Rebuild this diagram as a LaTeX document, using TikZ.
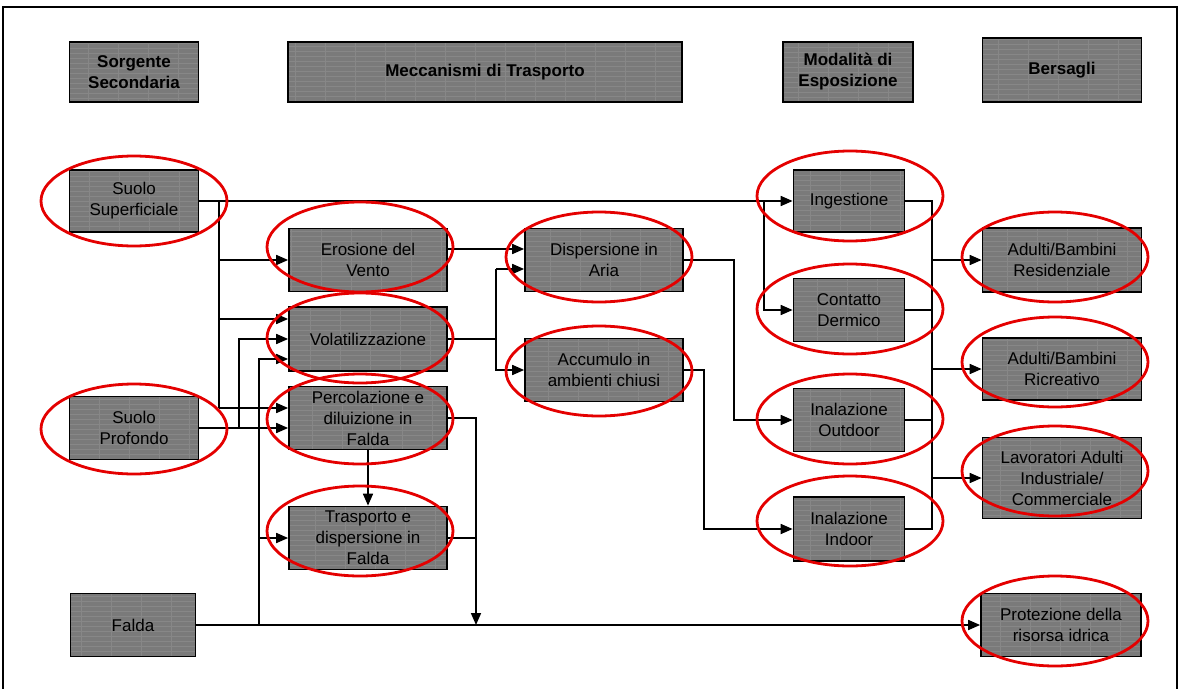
\documentclass[tikz,border=0pt]{standalone}
\usepackage{fontspec}
\setmainfont{Liberation Sans}
\usetikzlibrary{arrows.meta,positioning}
\tikzstyle{every link} = []
\tikzstyle{link} = [-{Triangle[length=12pt,width=10pt]}, draw, line width=1.7pt, every link]
\tikzstyle{wire} = [draw, line width=1.7pt]
\definecolor{boxgray}{RGB}{122,122,122}
\definecolor{anello}{RGB}{228,0,0}
\tikzstyle{blocco} = [draw=black, line width=1.7pt, fill=boxgray, align=center, inner sep=0pt,
  font=\fontsize{17}{21}\selectfont,
  path picture={\draw[white, opacity=0.10, line width=0.5pt]
    (path picture bounding box.south west) grid[xstep=30pt,ystep=5pt] (path picture bounding box.north east);}]
\tikzstyle{testata} = [blocco, minimum height=60pt, font=\fontsize{17}{21}\selectfont\bfseries]
\tikzstyle{anello} = [draw=anello, line width=2.8pt]

\begin{document}
\begin{tikzpicture}[x=1pt, y=-1pt]
  \useasboundingbox (0,0) rectangle (1180,688);
  \draw[line width=1.6pt] (3,700) -- (3,7) -- (1177,7) -- (1177,700);

  % intestazioni
  \node[testata, minimum width=129pt] (sorgente) at (134,72) {Sorgente\\Secondaria};
  \node[testata, minimum width=394pt] (meccanismi) at (485,72) {Meccanismi di Trasporto};
  \node[testata, minimum width=130pt] (modalita) at (848,72) {Modalità di\\Esposizione};
  \node[testata, minimum width=159pt, minimum height=64pt] (bersagli) at (1062,70) {Bersagli};

  % sorgenti
  \node[blocco, minimum width=129pt, minimum height=62pt] (suoloSup) at (134,201) {Suolo\\Superficiale};
  \node[blocco, minimum width=129pt, minimum height=63pt] (suoloProf) at (134,428) {Suolo\\Profondo};
  \node[blocco, minimum width=125pt, minimum height=63pt] (falda) at (133,625) {Falda};

  % trasporto
  \node[blocco, minimum width=158pt, minimum height=63pt] (erosione) at (368,260) {Erosione del\\Vento};
  \node[blocco, minimum width=158pt, minimum height=64pt] (volat) at (368,339) {Volatilizzazione};
  \node[blocco, minimum width=158pt, minimum height=63pt] (percol) at (368,418) {Percolazione e\\diluizione in\\Falda};
  \node[blocco, minimum width=158pt, minimum height=63pt] (trasp) at (368,538) {Trasporto e\\dispersione in\\Falda};
  \node[blocco, minimum width=158pt, minimum height=63pt] (dispers) at (604,260) {Dispersione in\\Aria};
  \node[blocco, minimum width=158pt, minimum height=63pt] (accum) at (604,370) {Accumulo in\\ambienti chiusi};

  % esposizione
  \node[blocco, minimum width=111pt, minimum height=62pt] (ingest) at (849,201) {Ingestione};
  \node[blocco, minimum width=111pt, minimum height=63pt] (contatto) at (849,310) {Contatto\\Dermico};
  \node[blocco, minimum width=111pt, minimum height=63pt] (outdoor) at (849,420) {Inalazione\\Outdoor};
  \node[blocco, minimum width=111pt, minimum height=64pt] (indoor) at (849,529) {Inalazione\\Indoor};

  % bersagli
  \node[blocco, minimum width=159pt, minimum height=64pt] (resid) at (1062,260) {Adulti/Bambini\\Residenziale};
  \node[blocco, minimum width=159pt, minimum height=62pt] (ricre) at (1062,369) {Adulti/Bambini\\Ricreativo};
  \node[blocco, minimum width=159pt, minimum height=81pt] (lavor) at (1062,478) {Lavoratori Adulti\\Industriale/\\Commerciale};
  \node[blocco, minimum width=160pt, minimum height=63pt] (protez) at (1061,625) {Protezione della\\risorsa idrica};

  % nodi di smistamento
  \coordinate (jS) at (219,0);
  \coordinate (jP) at (239,0);
  \coordinate (jF) at (259,0);
  \coordinate (jT) at (476,0);
  \coordinate (jV) at (496,0);
  \coordinate (jA) at (704,0);
  \coordinate (jD) at (734,0);
  \coordinate (jI) at (764,0);
  \coordinate (jB) at (932,0);

  % suolo superficiale
  \draw[link] (suoloSup.east) -- (ingest.west);
  \draw[wire] (suoloSup.east -| jS) -- ([yshift=10pt]percol.west -| jS);
  \draw[link] (erosione.west -| jS) -- (erosione.west);
  \draw[link] ([yshift=20pt]volat.west -| jS) -- ([yshift=20pt]volat.west);
  \draw[link] ([yshift=10pt]percol.west -| jS) -- ([yshift=10pt]percol.west);

  % suolo profondo
  \draw[link] (suoloProf.east) -- (suoloProf.east -| percol.west);
  \draw[link] (suoloProf.east -| jP) -- (volat.west -| jP) -- (volat.west);

  % falda
  \draw[link] (falda.east) -- (falda.east -| protez.west);
  \draw[link] (falda.east -| jF) -- ([yshift=-20pt]volat.west -| jF) -- ([yshift=-20pt]volat.west);
  \draw[link] (trasp.west -| jF) -- (trasp.west);
  \draw[link] (percol.south) -- (trasp.north);
  \draw[link] (percol.east) -- (percol.east -| jT) -- (falda.east -| jT);
  \draw[wire] (trasp.east) -- (trasp.east -| jT);

  % aria
  \draw[link] ([yshift=11pt]erosione.east) -- ([yshift=11pt]dispers.west);
  \draw[wire] (volat.east) -- (volat.east -| jV);
  \draw[link] ([yshift=-9pt]dispers.west -| jV) -- ([yshift=-9pt]dispers.west);
  \draw[link] ([yshift=-9pt]dispers.west -| jV) -- (accum.west -| jV) -- (accum.west);
  \draw[link] (dispers.east) -- (dispers.east -| jD) -- (outdoor.west -| jD) -- (outdoor.west);
  \draw[link] (accum.east) -- (accum.east -| jA) -- (indoor.west -| jA) -- (indoor.west);
  \draw[link] (ingest.west -| jI) -- (contatto.west -| jI) -- (contatto.west);

  % verso i bersagli
  \draw[wire] (ingest.east) -- (ingest.east -| jB) -- (indoor.east -| jB) -- (indoor.east);
  \foreach \m in {contatto, outdoor}
    \draw[wire] (\m.east) -- (\m.east -| jB);
  \foreach \t in {resid, ricre, lavor}
    \draw[link] (\t.west -| jB) -- (\t.west);

  % cerchiature
  \foreach \cx/\cy in {134/201, 134/429, 360/247, 360/338, 360/419, 360/531,
                       599/257, 599/371, 850/196, 850/309, 850/419, 850/521,
                       1055/257, 1055/362, 1055/471, 1055/621}
    \draw[anello] (\cx,\cy) ellipse [x radius=93pt, y radius=45pt];
\end{tikzpicture}
\end{document}
